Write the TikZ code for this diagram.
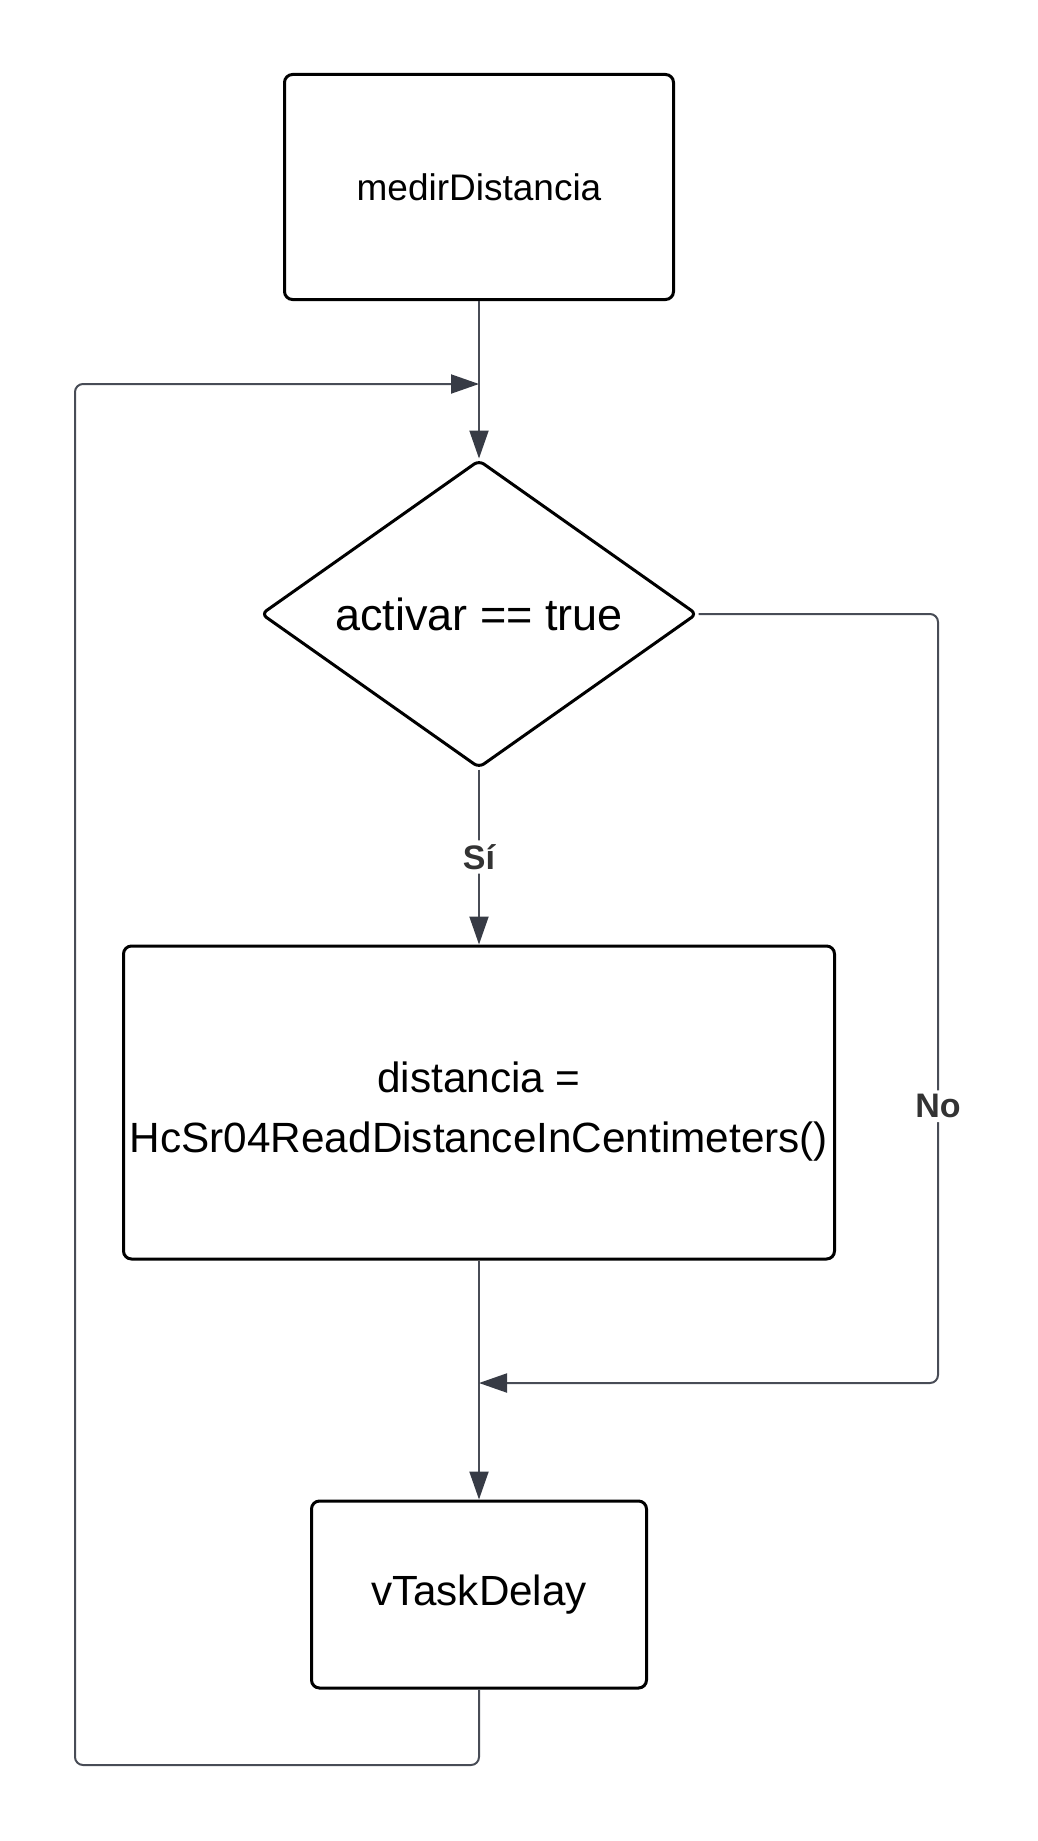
\documentclass[tikz,border=0pt]{standalone}
\usepackage{fontspec}
\setmainfont{Liberation Sans}
\usetikzlibrary{arrows.meta,shapes.geometric}
\definecolor{edgec}{RGB}{72,76,86}
\definecolor{tipc}{RGB}{55,59,69}
\definecolor{lblc}{RGB}{51,51,51}
\begin{document}
\begin{tikzpicture}[x=1pt,y=-1pt,
  box/.style={draw=black,line width=3pt,rounded corners=8pt,inner sep=0pt,align=center,text=black},
  conn/.style={draw=edgec,line width=2pt,rounded corners=8pt,-{Triangle[length=28pt,width=19pt,color=tipc]}},
  lab/.style={fill=white,text=lblc,font=\fontsize{34}{40}\selectfont\bfseries,inner sep=4pt}]
\useasboundingbox (0,0) rectangle (1037,1841);
\node[box,minimum width=389pt,minimum height=225pt,font=\fontsize{37}{44}\selectfont] (start) at (479,187) {medirDistancia};
\node[draw=black,line width=3pt,diamond,aspect=1.43,minimum width=436pt,minimum height=308pt,inner sep=0pt,rounded corners=6pt,text=black,font=\fontsize{45}{52}\selectfont] (cond) at (479,614) {activar == true};
\node[box,minimum width=711pt,minimum height=313pt,font=\fontsize{42.3}{60}\selectfont] (calc) at (479,1102.5) {\rule{0pt}{48pt}distancia =\\HcSr04ReadDistanceInCentimeters()};
\node[box,minimum width=335pt,minimum height=187pt,font=\fontsize{42.2}{49}\selectfont] (delay) at (479,1594.5) {vTaskDelay};
\coordinate (loopin) at (479,384);
\coordinate (merge) at (479,1383);
\coordinate (noA) at (938,614);
\coordinate (noB) at (938,1383);
\coordinate (loopA) at (479,1765);
\coordinate (loopB) at (75,1765);
\coordinate (loopC) at (75,384);
\draw[conn] (start.south) -- (cond.north);
\draw[conn] (cond.south) -- node[lab]{Sí} (calc.north);
\draw[conn] (calc.south) -- (delay.north);
\draw[conn] (cond.east) -- (noA) -- node[lab,pos=0.64]{No} (noB) -- (merge);
\draw[conn] (delay.south) -- (loopA) -- (loopB) -- (loopC) -- (loopin);
\end{tikzpicture}
\end{document}
